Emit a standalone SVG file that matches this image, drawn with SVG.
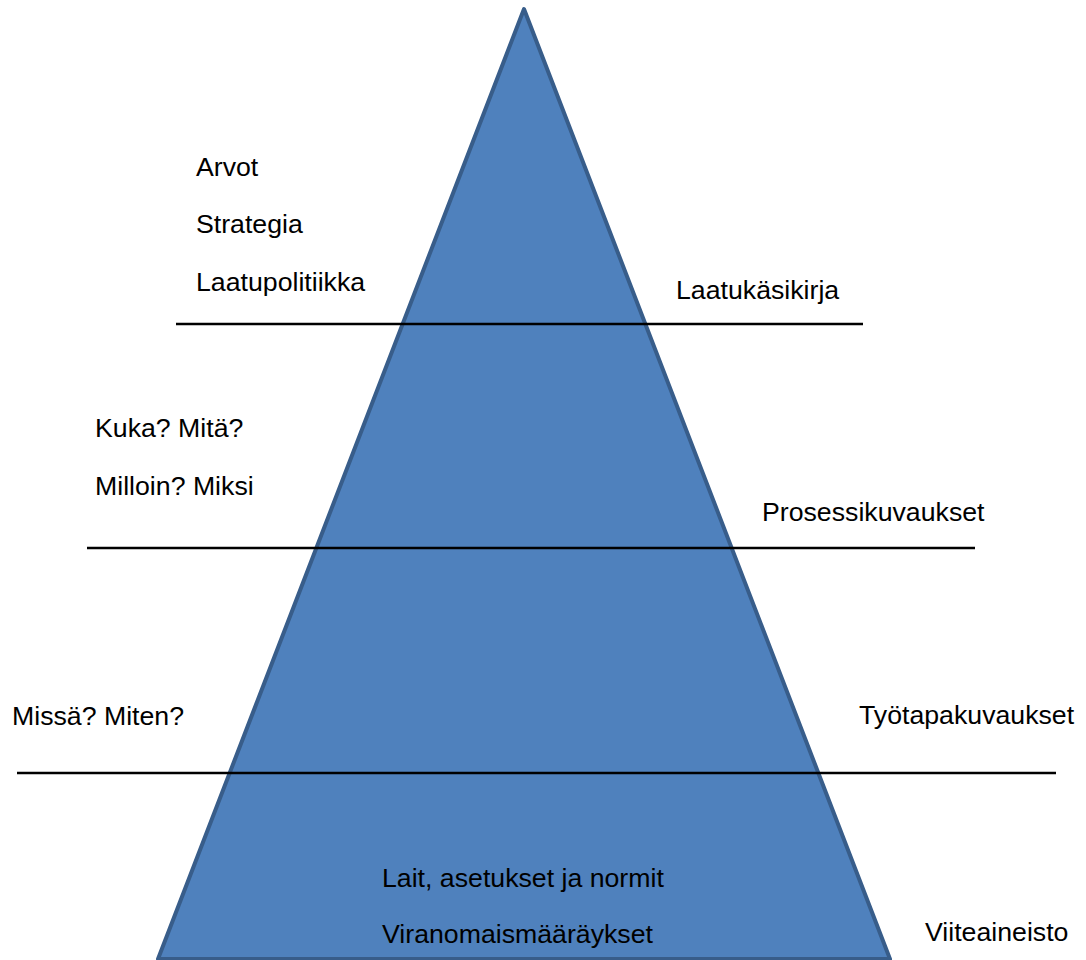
<svg xmlns="http://www.w3.org/2000/svg" width="1086" height="960" viewBox="0 0 1086 960">
<style>
.t{font-family:"Liberation Sans",Arial,sans-serif;font-size:26.7px;fill:#000}
.sep{stroke:#000;stroke-width:2.5;fill:none}
</style>
<rect width="1086" height="960" fill="#fff"/>
<g id="pyramid">
<polygon points="524,9 890,959 158,959" fill="#4F81BD" stroke="#385D8A" stroke-width="4" stroke-linejoin="round"/>
</g>
<g id="connectors">
<line class="sep" x1="176" y1="324" x2="863" y2="324"/>
<line class="sep" x1="87" y1="548" x2="975" y2="548"/>
<line class="sep" x1="17" y1="773" x2="1056" y2="773"/>
</g>
<g id="level1">
<text class="t" x="196" y="176">Arvot</text>
<text class="t" x="196" y="233">Strategia</text>
<text class="t" x="196" y="291">Laatupolitiikka</text>
<text class="t" x="676" y="299">Laatukäsikirja</text>
</g>
<g id="level2">
<text class="t" x="95" y="437">Kuka? Mitä?</text>
<text class="t" x="95" y="495">Milloin? Miksi</text>
<text class="t" x="762" y="521">Prosessikuvaukset</text>
</g>
<g id="level3">
<text class="t" x="12" y="725">Missä? Miten?</text>
<text class="t" x="859" y="724">Työtapakuvaukset</text>
</g>
<g id="level4">
<text class="t" x="382" y="887">Lait, asetukset ja normit</text>
<text class="t" x="382" y="943">Viranomaismääräykset</text>
<text class="t" x="925" y="941">Viiteaineisto</text>
</g>
</svg>
